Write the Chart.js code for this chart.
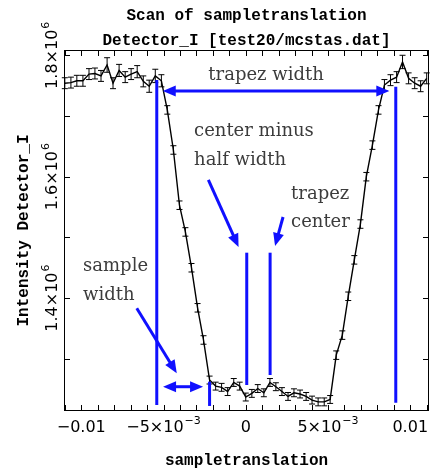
<!DOCTYPE html>
<html>
<head>
<meta charset="utf-8">
<title>Scan of sampletranslation</title>
<script src="https://cdn.jsdelivr.net/npm/chart.js@4.4.0/dist/chart.umd.min.js"></script>
<style>
  html, body { margin: 0; padding: 0; background: #fff; }
  canvas { display: block; }
</style>
</head>
<body>
<canvas id="myChart" width="430" height="472"></canvas>
<script>
// scan positions (sampletranslation)
const scanX = [
  -0.01100, -0.01063, -0.01027, -0.00990, -0.00953, -0.00917, -0.00880, -0.00843,
  -0.00807, -0.00770, -0.00733, -0.00697, -0.00660, -0.00623, -0.00587, -0.00550,
  -0.00513, -0.00477, -0.00440, -0.00403, -0.00367, -0.00330, -0.00293, -0.00257,
  -0.00220, -0.00183, -0.00147, -0.00110, -0.00073, -0.00037, 0,
  0.00037, 0.00073, 0.00110, 0.00147, 0.00183, 0.00220, 0.00257, 0.00293,
  0.00330, 0.00367, 0.00403, 0.00440, 0.00477, 0.00513, 0.00550, 0.00587,
  0.00623, 0.00660, 0.00697, 0.00733, 0.00770, 0.00807, 0.00843, 0.00880,
  0.00917, 0.00953, 0.00990, 0.01027, 0.01063, 0.01100
];

// Intensity Detector_I
const intensity = [
  1.754e6, 1.755e6, 1.758e6, 1.758e6, 1.769e6, 1.770e6, 1.766e6, 1.784e6,
  1.754e6, 1.775e6, 1.764e6, 1.769e6, 1.773e6, 1.757e6, 1.749e6, 1.766e6,
  1.758e6, 1.710e6, 1.644e6, 1.553e6, 1.509e6, 1.450e6, 1.384e6, 1.331e6,
  1.265e6, 1.255e6, 1.253e6, 1.246e6, 1.261e6, 1.255e6, 1.237e6,
  1.243e6, 1.251e6, 1.244e6, 1.261e6, 1.254e6, 1.246e6, 1.238e6, 1.244e6,
  1.242e6, 1.238e6, 1.232e6, 1.229e6, 1.229e6, 1.233e6, 1.306e6, 1.339e6,
  1.403e6, 1.463e6, 1.522e6, 1.600e6, 1.652e6, 1.710e6, 1.751e6, 1.759e6,
  1.764e6, 1.789e6, 1.762e6, 1.754e6, 1.749e6, 1.762e6
];

// error bars (+/-)
const intensityErr = [
  9000, 9000, 9000, 9000, 9000, 9000, 9000, 12000,
  9000, 10000, 9000, 9000, 10000, 9000, 10000, 11000,
  10000, 7000, 7000, 7000, 7000, 7000, 7000, 7000,
  6500, 6500, 6500, 6500, 6500, 6500, 6500,
  6500, 6500, 6500, 6500, 6500, 6500, 6500, 6500,
  6500, 6500, 6500, 6500, 6500, 6500, 7000, 7000,
  7000, 7000, 7000, 7000, 7000, 7000, 9000, 9000,
  9000, 11000, 9000, 9000, 9000, 9000
];

// tick labels (base, superscript)
const xTickValues = [-0.01, -0.005, 0, 0.005, 0.01];
const xTickLabels = [['−0.01'], ['−5×10', '−3'], ['0'], ['5×10', '−3'], ['0.01']];
const yTickValues = [1.4e6, 1.6e6, 1.8e6];
const yTickLabels = [['1.4×10', '6'], ['1.6×10', '6'], ['1.8×10', '6']];

const titleLines = ['Scan of sampletranslation', 'Detector_I [test20/mcstas.dat]'];
const xTitle = 'sampletranslation';
const yTitle = 'Intensity Detector_I';

// annotations, in data units
const vLines = [ // x, yFrom, yTo
  [-0.00541, 1.2239e6, 1.7593e6],
  [0.00912, 1.2277e6, 1.7483e6],
  [-0.00220, 1.2223e6, 1.2623e6],
  [0.00006, 1.2568e6, 1.4748e6],
  [0.00148, 1.2733e6, 1.4748e6]
];
const dblArrows = [ // xFrom, xTo, y
  [-0.005046, 0.008729, 1.7412e6],
  [-0.005027, -0.002596, 1.2540e6]
];
const arrows = [ // x0, y0 -> x1, y1 (tip)
  [-0.002274, 1.5946e6, -0.000438, 1.4842e6],
  [0.002267, 1.5336e6, 0.001781, 1.4858e6],
  [-0.006626, 1.3832e6, -0.004195, 1.2761e6]
];
const notes = [
  { lines: ['trapez width'], x: 0.001234, y: 1.7675e6, align: 'center' },
  { lines: ['center minus', 'half width'], x: -0.003143, y: 1.6741e6, align: 'left' },
  { lines: ['trapez', 'center'], x: 0.002754, y: 1.5715e6, align: 'left' },
  { lines: ['sample', 'width'], x: -0.00989, y: 1.4517e6, align: 'left' }
];

const points = scanX.map((x, i) => ({ x: x, y: intensity[i] }));

const BLUE = '#1010ff';
const NOTE_FONT = '18px "DejaVu Serif"';
const MONO = 'bold 16px "Liberation Mono"';
const TICK_FONT = '16px "DejaVu Sans"';
const SUP_FONT = '11px "DejaVu Sans"';

function supLabel(ctx, parts, x, y) {
  ctx.textAlign = 'left';
  ctx.textBaseline = 'alphabetic';
  ctx.font = TICK_FONT;
  const w1 = ctx.measureText(parts[0]).width;
  let w2 = 0;
  if (parts[1]) {
    ctx.font = SUP_FONT;
    w2 = ctx.measureText(parts[1]).width + 1;
  }
  const sx = x - (w1 + w2) / 2;
  ctx.font = TICK_FONT;
  ctx.fillText(parts[0], sx, y);
  if (parts[1]) {
    ctx.font = SUP_FONT;
    ctx.fillText(parts[1], sx + w1 + 1, y - 8);
  }
}

function arrowHead(ctx, x0, y0, x1, y1) {
  const a = Math.atan2(y1 - y0, x1 - x0);
  const L = 13, W = 5.5;
  const bx = x1 - L * Math.cos(a), by = y1 - L * Math.sin(a);
  ctx.beginPath();
  ctx.moveTo(x1, y1);
  ctx.lineTo(bx + W * Math.sin(a), by - W * Math.cos(a));
  ctx.lineTo(bx - W * Math.sin(a), by + W * Math.cos(a));
  ctx.closePath();
  ctx.fill();
  return [x1 - (L - 2) * Math.cos(a), y1 - (L - 2) * Math.sin(a)];
}

const scanDecor = {
  id: 'scanDecor',
  afterDatasetsDraw(chart) {
    const ctx = chart.ctx;
    const xs = chart.scales.x, ys = chart.scales.y;
    // error bars
    ctx.save();
    ctx.strokeStyle = '#000';
    ctx.lineWidth = 1;
    points.forEach((p, i) => {
      const px = xs.getPixelForValue(p.x);
      const top = ys.getPixelForValue(p.y + intensityErr[i]);
      const bot = ys.getPixelForValue(p.y - intensityErr[i]);
      ctx.beginPath();
      ctx.moveTo(px, top); ctx.lineTo(px, bot);
      ctx.moveTo(px - 3, top); ctx.lineTo(px + 3, top);
      ctx.moveTo(px - 3, bot); ctx.lineTo(px + 3, bot);
      ctx.stroke();
    });
    ctx.restore();
  },
  afterDraw(chart) {
    const ctx = chart.ctx;
    const xs = chart.scales.x, ys = chart.scales.y;
    const a = chart.chartArea;
    ctx.save();

    // blue annotations
    ctx.strokeStyle = BLUE;
    ctx.fillStyle = BLUE;
    ctx.lineWidth = 3;
    vLines.forEach(v => {
      const px = xs.getPixelForValue(v[0]);
      ctx.beginPath();
      ctx.moveTo(px, ys.getPixelForValue(v[1]));
      ctx.lineTo(px, ys.getPixelForValue(v[2]));
      ctx.stroke();
    });
    dblArrows.forEach(d => {
      const x0 = xs.getPixelForValue(d[0]), x1 = xs.getPixelForValue(d[1]);
      const py = ys.getPixelForValue(d[2]);
      const e1 = arrowHead(ctx, x1, py, x0, py);
      const e2 = arrowHead(ctx, x0, py, x1, py);
      ctx.beginPath();
      ctx.moveTo(e1[0], py); ctx.lineTo(e2[0], py);
      ctx.stroke();
    });
    arrows.forEach(r => {
      const x0 = xs.getPixelForValue(r[0]), y0 = ys.getPixelForValue(r[1]);
      const x1 = xs.getPixelForValue(r[2]), y1 = ys.getPixelForValue(r[3]);
      const e = arrowHead(ctx, x0, y0, x1, y1);
      ctx.beginPath();
      ctx.moveTo(x0, y0); ctx.lineTo(e[0], e[1]);
      ctx.stroke();
    });

    // annotation text
    ctx.fillStyle = '#3c3c3c';
    ctx.font = NOTE_FONT;
    ctx.textBaseline = 'middle';
    notes.forEach(n => {
      ctx.textAlign = n.align;
      const px = xs.getPixelForValue(n.x);
      const py = ys.getPixelForValue(n.y);
      n.lines.forEach((t, k) => ctx.fillText(t, px, py + k * 28.5));
    });

    // frame and ticks
    ctx.strokeStyle = '#000';
    ctx.fillStyle = '#000';
    ctx.lineWidth = 1;
    ctx.strokeRect(a.left + 0.5, a.top + 0.5, a.right - a.left - 1, a.bottom - a.top - 1);
    ctx.beginPath();
    for (let k = -11; k <= 11; k++) {
      const px = Math.round(xs.getPixelForValue(k / 1000)) + 0.5;
      ctx.moveTo(px, a.bottom); ctx.lineTo(px, a.bottom - 6);
      ctx.moveTo(px, a.top); ctx.lineTo(px, a.top + 6);
    }
    for (let k = 13; k <= 18; k++) {
      const py = Math.round(ys.getPixelForValue(k * 1e5)) + 0.5;
      ctx.moveTo(a.left, py); ctx.lineTo(a.left + 6, py);
      ctx.moveTo(a.right, py); ctx.lineTo(a.right - 6, py);
    }
    ctx.stroke();

    // tick labels
    xTickValues.forEach((v, i) => supLabel(ctx, xTickLabels[i], xs.getPixelForValue(v), a.bottom + 21));
    yTickValues.forEach((v, i) => {
      ctx.save();
      ctx.translate(a.left - 7, ys.getPixelForValue(v));
      ctx.rotate(-Math.PI / 2);
      supLabel(ctx, yTickLabels[i], 0, 0);
      ctx.restore();
    });

    // titles
    ctx.font = MONO;
    ctx.textAlign = 'center';
    ctx.textBaseline = 'alphabetic';
    const cx = (a.left + a.right) / 2;
    ctx.fillText(titleLines[0], cx, 20);
    ctx.fillText(titleLines[1], cx, 45);
    ctx.fillText(xTitle, cx, 465);
    ctx.save();
    ctx.translate(28, (a.top + a.bottom) / 2);
    ctx.rotate(-Math.PI / 2);
    ctx.fillText(yTitle, 0, 0);
    ctx.restore();

    ctx.restore();
  }
};

new Chart('myChart', {
  type: 'line',
  data: {
    datasets: [{
      data: points,
      borderColor: '#000',
      borderWidth: 1.4,
      pointRadius: 0,
      fill: false,
      tension: 0
    }]
  },
  options: {
    responsive: false,
    animation: false,
    devicePixelRatio: 1,
    layout: { padding: { left: 64, right: 1, top: 50, bottom: 61 } },
    plugins: {
      legend: { display: false },
      tooltip: { enabled: false },
      title: { display: false }
    },
    scales: {
      x: { type: 'linear', display: false, min: -0.01105, max: 0.01114 },
      y: { type: 'linear', display: false, min: 1.214e6, max: 1.8087e6 }
    }
  },
  plugins: [scanDecor]
});
</script>
</body>
</html>
